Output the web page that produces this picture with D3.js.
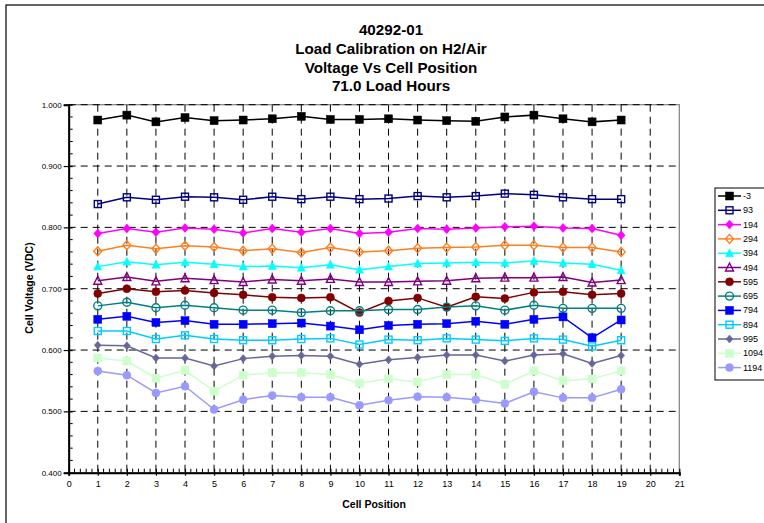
<!DOCTYPE html>
<html><head><meta charset="utf-8">
<script src="https://cdn.jsdelivr.net/npm/d3@7"></script>
<style>body{margin:0;background:#fff}svg{display:block;font-family:"Liberation Sans",Arial,sans-serif}</style>
</head><body>
<svg id="c" width="764" height="523"></svg>
<script>
const titleLines = ["40292-01","Load Calibration on H2/Air","Voltage Vs Cell Position","71.0 Load Hours"];
const cells = [1,2,3,4,5,6,7,8,9,10,11,12,13,14,15,16,17,18,19];
const seriesNames = ["-3","93","194","294","394","494","595","695","794","894","995","1094","1194"];
const s_m3   = [0.975,0.983,0.972,0.979,0.974,0.975,0.977,0.981,0.976,0.976,0.977,0.975,0.974,0.973,0.980,0.983,0.977,0.972,0.975];
const s_93   = [0.838,0.849,0.845,0.850,0.849,0.845,0.850,0.846,0.850,0.846,0.847,0.851,0.849,0.851,0.855,0.853,0.849,0.846,0.846];
const s_194  = [0.790,0.798,0.792,0.799,0.797,0.791,0.798,0.792,0.798,0.790,0.792,0.798,0.797,0.799,0.801,0.802,0.799,0.798,0.787];
const s_294  = [0.761,0.771,0.765,0.770,0.768,0.762,0.765,0.759,0.767,0.760,0.762,0.766,0.767,0.768,0.771,0.771,0.767,0.767,0.760];
const s_394  = [0.736,0.744,0.739,0.743,0.740,0.736,0.737,0.734,0.739,0.731,0.736,0.741,0.742,0.743,0.742,0.745,0.742,0.740,0.730];
const s_494  = [0.713,0.719,0.712,0.717,0.714,0.711,0.715,0.713,0.716,0.711,0.711,0.712,0.713,0.717,0.718,0.718,0.719,0.710,0.714];
const s_595  = [0.692,0.700,0.695,0.697,0.693,0.690,0.686,0.685,0.686,0.661,0.680,0.685,0.670,0.687,0.684,0.694,0.695,0.690,0.692];
const s_695  = [0.672,0.678,0.669,0.673,0.669,0.665,0.665,0.661,0.664,0.664,0.666,0.666,0.670,0.672,0.665,0.673,0.668,0.668,0.668];
const s_794  = [0.650,0.655,0.645,0.648,0.642,0.642,0.643,0.644,0.639,0.633,0.640,0.642,0.643,0.647,0.642,0.650,0.654,0.620,0.649];
const s_894  = [0.631,0.631,0.618,0.624,0.618,0.616,0.616,0.618,0.619,0.609,0.617,0.616,0.619,0.617,0.615,0.619,0.617,0.606,0.616];
const s_995  = [0.608,0.607,0.587,0.587,0.574,0.586,0.590,0.591,0.590,0.577,0.584,0.588,0.592,0.592,0.582,0.592,0.594,0.578,0.591];
const s_1094 = [0.587,0.582,0.554,0.567,0.533,0.559,0.563,0.563,0.560,0.546,0.553,0.548,0.560,0.560,0.544,0.566,0.550,0.553,0.566];
const s_1194 = [0.566,0.559,0.530,0.541,0.503,0.519,0.526,0.523,0.523,0.510,0.518,0.524,0.523,0.519,0.513,0.532,0.522,0.522,0.536];
const seriesValues = [s_m3,s_93,s_194,s_294,s_394,s_494,s_595,s_695,s_794,s_894,s_995,s_1094,s_1194];
const yTickLabels = ["0.400","0.500","0.600","0.700","0.800","0.900","1.000"];
const xTickLabels = d3.range(0,22).map(String);

const styles = [
  {c:"#000000", m:"square", fill:true, s:8},
  {c:"#000080", m:"square", fill:false, s:7},
  {c:"#FF00FF", m:"diamond", fill:true, s:8},
  {c:"#FF7F1F", m:"diamond", fill:false, s:8},
  {c:"#00FFFF", m:"triangle", fill:true, s:8},
  {c:"#800080", m:"triangle", fill:false, s:8},
  {c:"#800000", m:"circle", fill:true, s:8},
  {c:"#008080", m:"circle", fill:false, s:8},
  {c:"#0000FF", m:"square", fill:true, s:8},
  {c:"#00CCFF", m:"square", fill:false, s:7},
  {c:"#666699", m:"diamond", fill:true, s:7},
  {c:"#CCFFCC", m:"square", fill:true, s:8},
  {c:"#9999FF", m:"circle", fill:true, s:8}
];

const svg = d3.select("#c");
svg.append("rect").attr("x",6).attr("y",5).attr("width",800).attr("height",560)
  .attr("fill","none").attr("stroke","#000").attr("stroke-width",1.2);

const L=68.7, R=679.3, T=104.7, B=472.7;
const x = d3.scaleLinear().domain([0,21]).range([L,R]);
const y = d3.scaleLinear().domain([0.4,1.0]).range([B,T]);

svg.append("rect").attr("x",L).attr("y",T).attr("width",R-L).attr("height",B-T)
  .attr("fill","none").attr("stroke","#808080").attr("stroke-width",1.2);

const grid = svg.append("g").attr("stroke","#000").attr("stroke-width",1).attr("stroke-dasharray","7,5");
d3.range(1,21).forEach(v=>grid.append("line").attr("x1",x(v)).attr("x2",x(v)).attr("y1",T).attr("y2",B));
[0.5,0.6,0.7,0.8,0.9,1.0].forEach(v=>grid.append("line").attr("x1",L).attr("x2",R).attr("y1",y(v)).attr("y2",y(v)));

const yAxis = svg.append("g").attr("transform",`translate(${L},0)`)
  .call(d3.axisLeft(y).tickValues(d3.range(0,7).map(i=>0.4+i*0.1)).tickFormat((d,i)=>yTickLabels[i]).tickSize(5).tickPadding(2));
yAxis.select(".domain").attr("stroke-width",2);
yAxis.selectAll(".tick line").attr("x2",-5).attr("x1",4).attr("stroke-width",1.2);
yAxis.selectAll("text").attr("font-size",8).attr("fill","#000").attr("font-family","Liberation Sans, Arial, sans-serif");
const yMin = svg.append("g").attr("stroke","#000");
d3.range(0,31).forEach(i=>{ if(i%5) yMin.append("line").attr("x1",L).attr("x2",L+4).attr("y1",y(0.4+i*0.02)).attr("y2",y(0.4+i*0.02)); });

const xAxis = svg.append("g").attr("transform",`translate(0,${B})`)
  .call(d3.axisBottom(x).tickValues(d3.range(0,22)).tickFormat((d,i)=>xTickLabels[i]).tickSize(3).tickPadding(5));
xAxis.select(".domain").attr("stroke-width",2);
xAxis.selectAll(".tick line").attr("y1",-4).attr("y2",3).attr("stroke-width",1.2);
xAxis.selectAll("text").attr("font-size",9).attr("fill","#000").attr("font-family","Liberation Sans, Arial, sans-serif");
const xMin = svg.append("g").attr("stroke","#000");
d3.range(0,106).forEach(i=>{ if(i%5) xMin.append("line").attr("x1",x(i*0.2)).attr("x2",x(i*0.2)).attr("y1",B).attr("y2",B-4); });

function marker(g, st, cx, cy){
  const s = st.s, h = s/2;
  let el;
  if(st.m==="square") el = g.append("rect").attr("x",cx-h).attr("y",cy-h).attr("width",s).attr("height",s);
  else if(st.m==="circle") el = g.append("circle").attr("cx",cx).attr("cy",cy).attr("r",h);
  else if(st.m==="diamond") el = g.append("path").attr("d",`M${cx},${cy-h-0.5}L${cx+h},${cy}L${cx},${cy+h+0.5}L${cx-h},${cy}Z`);
  else el = g.append("path").attr("d",`M${cx},${cy-h-0.5}L${cx+h},${cy+h-0.5}L${cx-h},${cy+h-0.5}Z`);
  el.attr("fill", st.fill ? st.c : "none").attr("stroke", st.c).attr("stroke-width", st.fill?0.5:1.4);
}

const line = d3.line().x((d,i)=>x(cells[i])).y(d=>y(d));
seriesValues.forEach((vals,k)=>{
  const st = styles[k];
  const g = svg.append("g");
  g.append("path").datum(vals).attr("d",line).attr("fill","none").attr("stroke",st.c).attr("stroke-width",1.5);
  vals.forEach((v,i)=>marker(g, st, x(cells[i]), y(v)));
});

svg.append("rect").attr("x",715).attr("y",188).attr("width",80).attr("height",192)
  .attr("fill","#fff").attr("stroke","#000").attr("stroke-width",1);
seriesNames.forEach((n,k)=>{
  const st = styles[k];
  const yy = 196 + k*14.3;
  const g = svg.append("g");
  g.append("line").attr("x1",718).attr("x2",741).attr("y1",yy).attr("y2",yy).attr("stroke",st.c).attr("stroke-width",1.5);
  marker(g, st, 729.5, yy);
  g.append("text").attr("x",743).attr("y",yy+3).attr("font-size",9).attr("fill","#000").text(n);
});

const tt = svg.append("text").attr("text-anchor","middle").attr("font-weight","bold").attr("font-size",15.2).attr("fill","#000");
titleLines.forEach((t,i)=>tt.append("tspan").attr("x",391).attr("y",35+i*18.8).text(t));

svg.append("text").attr("x",374).attr("y",508).attr("text-anchor","middle").attr("font-weight","bold").attr("font-size",10.5).text("Cell Position");
svg.append("text").attr("transform","translate(33,288) rotate(-90)").attr("text-anchor","middle").attr("font-weight","bold").attr("font-size",10.5).text("Cell Voltage (VDC)");
</script>
</body></html>
